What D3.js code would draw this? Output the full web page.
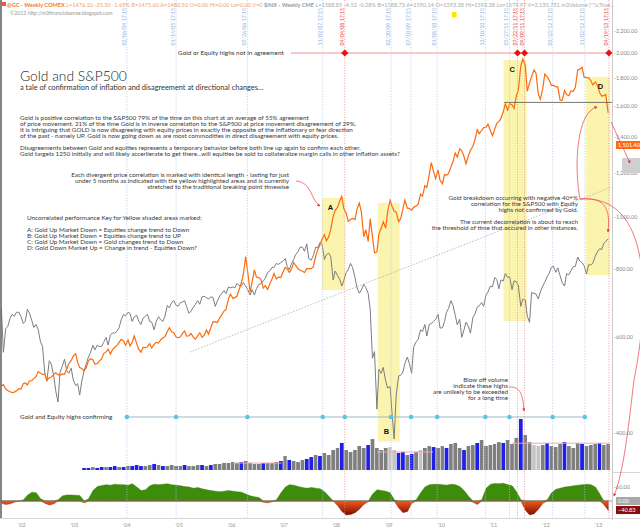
<!DOCTYPE html>
<html>
<head>
<meta charset="utf-8">
<script src="https://cdnjs.cloudflare.com/ajax/libs/d3/7.8.5/d3.min.js"></script>
<style>
  body { margin: 0; background: #fff; }
  svg { display: block; font-family: Lato, "Open Sans", sans-serif; }
</style>
</head>
<body>
<svg id="chart" width="640" height="530"></svg>
<script>
// gold weekly closes, sampled twice a month from Sep 2001 (mid, end)
const gold = [
  290,293, 283,279, 276,274, 275,278,
  283,282, 296,297, 292,302, 303,308, 313,326, 322,318, 320,304, 310,312, 318,323, 318,317, 320,319, 333,347,
  356,368, 375,350, 337,334, 328,336, 355,361, 358,346, 347,354, 360,375, 380,388, 374,386, 394,398, 408,417,
  412,399, 415,397, 408,427, 405,388, 379,393, 392,395, 404,391, 402,408, 406,415, 422,425, 441,453, 440,438,
  424,422, 425,435, 443,427, 428,435, 424,417, 428,437, 423,429, 446,433, 454,473, 472,470, 485,495, 508,513,
  550,568, 552,556, 560,582, 610,644, 715,653, 575,613, 660,632, 630,623, 590,599, 585,604, 625,646, 625,632,
  630,650, 670,664, 650,661, 690,677, 665,659, 655,650, 665,665, 665,672, 715,743, 765,789, 810,783, 800,834,
  895,923, 940,971, 995,933, 910,871, 880,885, 880,930, 960,918, 800,833, 780,884, 800,730, 735,814, 840,869,
  840,919, 975,942, 920,916, 870,883, 930,975, 935,934, 925,939, 945,955, 1005,995, 1050,1040, 1110,1175, 1125,1087,
  1135,1078, 1060,1109, 1105,1115, 1150,1180, 1230,1207, 1255,1244, 1210,1169, 1215,1246, 1270,1307, 1370,1346, 1365,1383, 1385,1405,
  1365,1333, 1375,1411, 1420,1439, 1485,1535, 1495,1536, 1530,1505, 1590,1628, 1800,1850, 1800,1620, 1680,1722, 1770,1746, 1600,1566,
  1640,1740, 1720,1697, 1660,1662, 1650,1651, 1560,1559, 1625,1598, 1590,1622, 1620,1648, 1770,1776, 1790,1720, 1715,1714, 1695,1664,
  1685,1664, 1610,1588, 1590,1598, 1476
];

// S&P500, same sampling
const spx = [
  1170,965, 1070,1080, 1120,1140, 1130,1150,
  1150,1130, 1095,1106, 1165,1147, 1110,1076, 1090,1067, 1010,990, 880,850, 930,916, 870,815, 776,885, 910,936, 890,880,
  900,855, 834,841, 800,848, 890,916, 945,963, 995,975, 995,990, 990,1008, 1030,996, 1040,1050, 1050,1058, 1075,1112,
  1140,1131, 1150,1144, 1105,1126, 1135,1107, 1090,1120, 1130,1140, 1105,1101, 1065,1104, 1128,1114, 1105,1130, 1185,1173, 1200,1212,
  1185,1181, 1200,1203, 1210,1180, 1145,1156, 1175,1191, 1210,1191, 1230,1234, 1225,1220, 1230,1228, 1180,1207, 1235,1249, 1265,1248,
  1285,1280, 1285,1280, 1305,1294, 1290,1310, 1290,1270, 1240,1270, 1240,1276, 1300,1303, 1320,1335, 1370,1377, 1400,1400, 1425,1418,
  1430,1438, 1455,1406, 1385,1420, 1450,1482, 1500,1530, 1530,1503, 1552,1455, 1445,1473, 1530,1526, 1562,1549, 1450,1481, 1490,1468,
  1325,1378, 1350,1330, 1290,1322, 1370,1385, 1425,1400, 1340,1280, 1250,1267, 1300,1282, 1250,1166, 940,968, 752,896, 880,903,
  850,825, 830,735, 660,797, 870,872, 885,919, 945,919, 880,987, 1010,1020, 1065,1057, 1090,1036, 1090,1095, 1105,1115,
  1140,1073, 1075,1104, 1150,1169, 1210,1186, 1135,1089, 1115,1030, 1065,1101, 1080,1049, 1125,1141, 1175,1183, 1200,1180, 1240,1257,
  1290,1286, 1340,1327, 1275,1325, 1320,1363, 1340,1345, 1270,1320, 1315,1292, 1180,1218, 1215,1131, 1100,1253, 1250,1246, 1220,1257,
  1290,1312, 1345,1365, 1400,1408, 1370,1397, 1350,1310, 1290,1362, 1355,1379, 1405,1406, 1465,1440, 1430,1412, 1360,1416, 1415,1426,
  1470,1498, 1520,1514, 1555,1569, 1588
];

// monthly volume from Apr 2003 and the bar colour (b blue, g grey, l light)
const volume = [
  22,22,32,22,32,32,32,43,32,
  32,43,43,54,43,43,54,65,54,43,43,54,
  43,43,54,43,43,54,54,43,54,65,65,76,
  76,86,76,86,97,76,65,65,76,76,76,86,
  97,151,108,97,86,108,119,140,162,151,184,162,
  216,238,292,216,194,216,259,238,270,335,238,216,
  238,248,216,184,194,162,173,194,216,238,259,248,
  238,259,238,281,292,238,216,259,270,292,324,259,
  270,281,302,292,324,281,346,551,378,302,270,259,
  270,292,259,248,281,302,259,238,292,281,259,270,
  281,292,270,281
];
const volumeColor = "bbgbbgbbg" + "bgbbbggbgbgg" + "ggbgggbgbggg" + "gggbggggbggg" +
  "bgbgggbbgbgg" + "ggbgggggbggg" + "gllbbgbglggb" + "ggbgggbggbgg" +
  "gggbgggbggll" + "gbgggbgggbgg" + "gbgg";
const volumeAvg = [
  ["2006-03-01", "2007-01-20", 75],
  ["2008-11-15", "2009-12-10", 195],
  ["2011-06-15", "2013-04-20", 290]
];

// monthly correlation oscillator from Sep 2001
const osc = [
  -10,-15,-12,-5,
  0,5,25,38,35,10,-10,-17,-12,5,22,26,
  26,25,24,-8,10,45,62,66,70,68,72,70,
  70,68,74,60,45,48,65,72,70,72,74,70,
  68,65,62,60,55,58,52,48,45,42,40,42,
  45,42,40,38,30,22,18,15,-5,-8,-3,5,
  35,60,70,68,62,58,55,58,55,52,40,20,
  0,-20,-45,-60,-58,-50,-35,-15,-2,30,48,45,
  42,35,5,-30,-50,-45,-10,5,35,60,70,72,
  72,70,68,72,70,62,45,20,-5,-15,5,55,
  72,75,74,76,70,65,40,5,-40,-60,-55,-35,
  -10,5,35,50,55,60,62,65,68,70,72,70,
  60,30,-15,-40.83
];

// marked weeks: b = highs confirming, r = highs not in agreement
const events = [
  ["2004-02-06", "b"], ["2005-01-14", "b"], ["2006-05-26", "b"], ["2007-11-02", "b"],
  ["2008-04-04", "r"], ["2009-02-20", "b"], ["2009-07-10", "b"], ["2010-01-08", "b"],
  ["2010-12-10", "b"], ["2011-05-27", "b"], ["2011-07-22", "r"], ["2011-09-09", "r"],
  ["2012-03-23", "b"], ["2012-11-02", "b"], ["2013-04-19", "r"]
];

// yellow decorrelation zones: letter, start, end, top, bottom (price axis)
const zones = [
  ["A", "2007-10-27", "2008-04-05", 1082, 732],
  ["B", "2008-11-20", "2009-04-22", 1059, 385],
  ["C", "2011-04-15", "2011-09-24", 1941, 642],
  ["D", "2012-11-10", "2013-04-28", 1807, 780]
];

const priceTicks = [2200, 2000, 1800, 1600, 1400, 1200, 1000, 800, 600];
const years = d3.range(2002, 2014);
const goldSupport = 1545;
const trend = [["2005-04-20", 966], ["2013-11-20", 2090]];

const svg = d3.select("#chart");
const W = 640, H = 530, plotRight = 612;
const parse = d3.timeParse("%Y-%m-%d");

const x = d3.scaleTime()
  .domain([new Date(2002, 0, 1), new Date(2013, 0, 1)])
  .range([17, 17 + 11 * 52.4]);
const yGold = d3.scalePow().exponent(0.4).domain([280, 1850]).range([390, 59]);
const ySpx = d3.scaleLog().domain([776, 1565]).range([402, 242]);
const yPrice = d3.scaleLog().domain([600, 2000]).range([337, 53]);
const yVol = d3.scaleLinear().domain([0, 400]).range([470, 433]);
const yOsc = d3.scaleLinear().domain([0, 60]).range([501, 487]);

const halfMonth = (i) => new Date(2001, 8 + Math.floor(i / 2), i % 2 ? 28 : 14);

svg.append("rect").attr("width", W).attr("height", H).attr("fill", "#fff");

const defs = svg.append("defs");
defs.append("clipPath").attr("id", "plot")
  .append("rect").attr("x", 0).attr("y", 0).attr("width", plotRight).attr("height", 518);
defs.append("marker")
  .attr("id", "arr").attr("viewBox", "0 0 6 6")
  .attr("refX", 5).attr("refY", 3)
  .attr("markerWidth", 4).attr("markerHeight", 4)
  .attr("orient", "auto")
  .append("path").attr("d", "M0,0L6,3L0,6Z").attr("fill", "#e8303a");
const grad = defs.append("linearGradient").attr("id", "redfill")
  .attr("gradientUnits", "userSpaceOnUse")
  .attr("x1", 0).attr("y1", yOsc(0)).attr("x2", 0).attr("y2", yOsc(-60));
grad.append("stop").attr("offset", 0).attr("stop-color", "#f05a1e");
grad.append("stop").attr("offset", 1).attr("stop-color", "#7a0c00");

const plot = svg.append("g").attr("clip-path", "url(#plot)");

// yellow zones
plot.selectAll(".zone")
  .data(zones)
  .join("rect")
  .attr("x", (d) => x(parse(d[1])))
  .attr("width", (d) => x(parse(d[2])) - x(parse(d[1])))
  .attr("y", (d) => yPrice(d[3]))
  .attr("height", (d) => yPrice(d[4]) - yPrice(d[3]))
  .attr("fill", "#fbf3a6")
  .attr("opacity", 0.9);

// event verticals
svg.selectAll(".ev")
  .data(events)
  .join("line")
  .attr("x1", (d) => x(parse(d[0])))
  .attr("x2", (d) => x(parse(d[0])))
  .attr("y1", 0)
  .attr("y2", 518)
  .attr("stroke", (d) => d[1] === "r" ? "#f08a8a" : "#a9c6ee")
  .attr("stroke-width", 0.8)
  .attr("stroke-dasharray", "1,1.6");

svg.selectAll(".evlabel")
  .data(events)
  .join("text")
  .attr("transform", (d) => `translate(${x(parse(d[0])) - 1},8) rotate(-90)`)
  .attr("text-anchor", "end")
  .attr("font-size", 5.2)
  .attr("fill", (d) => d[1] === "r" ? "#e8464a" : "#8fb2e6")
  .text((d) => d3.timeFormat("%m/%d/%y")(parse(d[0])) + " 17:15");

// highs not in agreement
svg.append("line")
  .attr("x1", 291).attr("x2", plotRight)
  .attr("y1", yPrice(2000)).attr("y2", yPrice(2000))
  .attr("stroke", "#f6b4b4").attr("stroke-width", 1.6);
svg.append("text")
  .attr("x", 178).attr("y", yPrice(2000) + 2)
  .attr("font-size", 6.4).attr("fill", "#333")
  .text("Gold or Equity highs not in agreement");

// trend and support lines
plot.append("line")
  .attr("x1", x(parse(trend[0][0]))).attr("y1", ySpx(trend[0][1]))
  .attr("x2", x(parse(trend[1][0]))).attr("y2", ySpx(trend[1][1]))
  .attr("stroke", "#aaa").attr("stroke-width", 0.8).attr("stroke-dasharray", "1.5,1.5");
svg.append("line")
  .attr("x1", x(parse("2011-04-20"))).attr("x2", plotRight)
  .attr("y1", yGold(goldSupport)).attr("y2", yGold(goldSupport))
  .attr("stroke", "#555").attr("stroke-width", 0.8);

// price lines
plot.append("path")
  .datum(spx)
  .attr("fill", "none")
  .attr("stroke", "#7d7d7d")
  .attr("stroke-width", 1)
  .attr("d", d3.line().x((d, i) => x(halfMonth(i))).y((d) => ySpx(d)));
plot.append("path")
  .datum(gold)
  .attr("fill", "none")
  .attr("stroke", "#ff6a0a")
  .attr("stroke-width", 1.2)
  .attr("d", d3.line().x((d, i) => x(halfMonth(i))).y((d) => yGold(d)));

// zone letters
svg.selectAll(".zl")
  .data(zones)
  .join("text")
  .attr("x", (d) => d[0] === "D" ? x(parse(d[2])) - 7 : x(parse(d[1])) + 6)
  .attr("y", (d) => d[0] === "B" ? yPrice(d[4]) - 8 : yPrice(d[3]) + 12)
  .attr("text-anchor", (d) => d[0] === "D" ? "end" : "start")
  .attr("font-family", "Liberation Sans, Arial, sans-serif")
  .attr("font-weight", "bold")
  .attr("font-size", 7.5)
  .attr("fill", "#111")
  .text((d) => d[0]);

// volume
const volMonth = (i) => new Date(2003, 3 + i, 1);
const volFill = { b: "#1f1fe8", g: "#7f7f7f", l: "#c4c4c4" };
plot.selectAll(".vol")
  .data(volume)
  .join("rect")
  .attr("x", (d, i) => x(volMonth(i)))
  .attr("width", (d, i) => Math.max(0.8, x(volMonth(i + 1)) - x(volMonth(i)) - 0.7))
  .attr("y", (d) => yVol(d))
  .attr("height", (d) => yVol(0) - yVol(d))
  .attr("fill", (d, i) => volFill[volumeColor[i]]);
plot.selectAll(".vavg")
  .data(volumeAvg)
  .join("line")
  .attr("x1", (d) => x(parse(d[0]))).attr("x2", (d) => x(parse(d[1])))
  .attr("y1", (d) => yVol(d[2])).attr("y2", (d) => yVol(d[2]))
  .attr("stroke", "#f4a6a6").attr("stroke-width", 1);

// oscillator
const oscMonth = (i) => new Date(2001, 8 + i, 15);
plot.append("path")
  .datum(osc)
  .attr("fill", "#3e8c0c")
  .attr("stroke", "#2f7a06").attr("stroke-width", 0.4)
  .attr("d", d3.area().x((d, i) => x(oscMonth(i))).y0(yOsc(0)).y1((d) => yOsc(Math.max(d, 0))));
plot.append("path")
  .datum(osc)
  .attr("fill", "url(#redfill)")
  .attr("stroke", "#8a1200").attr("stroke-width", 0.4)
  .attr("d", d3.area().x((d, i) => x(oscMonth(i))).y0(yOsc(0)).y1((d) => yOsc(Math.min(d, 0))));
plot.append("line")
  .attr("x1", 0).attr("x2", plotRight)
  .attr("y1", yOsc(0)).attr("y2", yOsc(0))
  .attr("stroke", "#888").attr("stroke-width", 0.8);

// highs confirming
const confirm = events.filter((d, i) => d[1] === "b" || i === 4);
svg.append("line")
  .attr("x1", x(parse(confirm[0][0]))).attr("x2", x(parse(confirm[confirm.length - 1][0])))
  .attr("y1", 417).attr("y2", 417)
  .attr("stroke", "#9fb8c6").attr("stroke-width", 1.2);
svg.selectAll(".cdot")
  .data(confirm)
  .join("circle")
  .attr("cx", (d) => x(parse(d[0])))
  .attr("cy", 417)
  .attr("r", 2.3)
  .attr("fill", "#5cc3e0");
svg.append("text")
  .attr("x", 20).attr("y", 419)
  .attr("font-size", 6.4).attr("fill", "#333")
  .text("Gold and Equity highs confirming");

// diamonds
svg.selectAll(".dia")
  .data(events.filter((d) => d[1] === "r"))
  .join("path")
  .attr("transform", (d) => `translate(${x(parse(d[0]))},${yPrice(2000)})`)
  .attr("d", "M0,-3.6L3.6,0L0,3.6L-3.6,0Z")
  .attr("fill", "#ee1111");

// right axis
svg.append("line")
  .attr("x1", plotRight + 0.5).attr("x2", plotRight + 0.5)
  .attr("y1", 0).attr("y2", 520)
  .attr("stroke", "#bbb").attr("stroke-width", 0.8);
const rt = svg.append("g").attr("font-size", 5.4).attr("fill", "#888");
rt.selectAll("text")
  .data(priceTicks)
  .join("text")
  .attr("x", 614).attr("y", (d) => yPrice(d) + 2)
  .text((d) => "-" + d3.format(",.2f")(d));
rt.append("text").attr("x", 614).attr("y", yVol(400) + 2).text("-400.00");
rt.append("text").attr("x", 614).attr("y", yOsc(60) + 2).text("-60.00");

// value tags
function tag(yc, txt, bg, w) {
  svg.append("rect").attr("x", 616).attr("y", yc - 4).attr("width", w).attr("height", 8).attr("fill", bg);
  svg.append("text").attr("x", 618).attr("y", yc + 2).attr("font-size", 5.6).attr("fill", "#fff").text(txt);
}
svg.append("rect").attr("x", 622).attr("y", 158).attr("width", 18).attr("height", 15).attr("fill", "#cfcfcf");
tag(145, "1,501.40", "#ff6a0a", 24);
tag(yOsc(0), "0.00", "#a8a8a8", 24);
tag(yOsc(osc[osc.length - 1]) - 0.5, d3.format(".2f")(osc[osc.length - 1]), "#8a0c0c", 24);

// x axis
svg.append("line").attr("x1", 0).attr("x2", W).attr("y1", 518.5).attr("y2", 518.5)
  .attr("stroke", "#ccc").attr("stroke-width", 0.8);
svg.append("line").attr("x1", plotRight).attr("x2", W).attr("y1", 472.5).attr("y2", 472.5)
  .attr("stroke", "#ccc").attr("stroke-width", 0.8);
svg.selectAll(".yr")
  .data(years)
  .join("text")
  .attr("x", (d) => x(new Date(d, 0, 1)) + 5)
  .attr("y", 527)
  .attr("text-anchor", "middle")
  .attr("font-size", 5.6)
  .attr("fill", "#999")
  .text((d) => "'" + String(d).slice(2));

// left frame
svg.append("line").attr("x1", 1).attr("x2", 1).attr("y1", 0).attr("y2", 518)
  .attr("stroke", "#666").attr("stroke-width", 1.6);

// header
const hdr = svg.append("text").attr("x", 7).attr("y", 6.5).attr("font-size", 5.6);
hdr.append("tspan").attr("fill", "#f07a2a").attr("font-weight", "bold").text("@GC - Weekly  COMEX");
hdr.append("tspan").attr("fill", "#f0a26e")
  .text("  L=1476.10  -25.30  -1.69%  B=1475.60  A=1480.50  O=0.00  Hi=0.00  Lo=0.00  V=0");
hdr.append("tspan").attr("fill", "#999").attr("font-weight", "bold").text("  $INX - Weekly  CME");
hdr.append("tspan").attr("fill", "#aaa")
  .text("  L=1588.85  -4.52  -0.28%  B=1588.73  A=1590.14  O=1593.38  Hi=1593.38  Lo=1579.97  V=2,135,731  m3Volume (\"\",V,True...");
svg.append("rect").attr("x", 2).attr("y", 2).attr("width", 4).attr("height", 4).attr("fill", "#e85a3a");
svg.append("rect").attr("x", 452).attr("y", 12).attr("width", 4.5).attr("height", 5.5).attr("fill", "#ffe600");
svg.append("text").attr("x", 10).attr("y", 15).attr("font-size", 5.2).attr("fill", "#999")
  .text("\u00a92013 http://m3financialsense.blogspot.com");

// title and notes
svg.append("text").attr("x", 20).attr("y", 80.5)
  .attr("font-size", 13.8).attr("font-weight", 300).attr("fill", "#222")
  .text("Gold and S&P500");
svg.append("text").attr("x", 20).attr("y", 89.5)
  .attr("font-size", 7.4).attr("fill", "#333")
  .text("a tale of confirmation of inflation and disagreement at directional changes...");

function block(lines, xx, y0, step, anchor) {
  const t = svg.append("g").attr("font-size", 6.3).attr("fill", "#3a3a3a").attr("text-anchor", anchor || "start");
  lines.forEach((s, i) => {
    if (s) t.append("text").attr("x", xx).attr("y", y0 + i * step).text(s);
  });
}
block([
  "Gold is positive correlation to the S&P500 79% of the time on this chart at an average of 55% agreement",
  "of price movement. 21% of the time Gold is in inverse correlation to the S&P500 at price movement disagreement of 29%.",
  "It is intriguing that GOLD is now disagreeing with equity prices in exactly the opposite of the inflationary or fear direction",
  "of the past - namely UP. Gold is now going down as are most commodities in direct disagreement with equity prices.",
  "",
  "Disagreements between Gold and equities represents a temporary behavior before both line up again to confirm each other.",
  "Gold targets 1250 initially and will likely accerllerate to get there...will equities be sold to collateralize margin calls in other inflation assets?"
], 20, 120, 6);
block([
  "Each divergent price correlation is marked with identical length - lasting for just",
  "under 5 months as indicated with the yellow highlighted areas and is currently",
  "stretched to the traditional breaking point timewise"
], 289, 177, 6, "end");
block([
  "Uncorrelated performance Key for Yellow shaded areas marked:",
  "",
  "A: Gold Up Market Down = Equities change trend to Down",
  "B: Gold Up Market Down = Equities change trend to UP",
  "C: Gold Up Market Down = Gold changes trend to Down",
  "D: Gold Down Market Up = Change in trend - Equities Down?"
], 27, 220, 6);
block([
  "Gold breakdown occurring with negative 40+%",
  "correlation for the S&P500 with Equity",
  "highs not confirmed by Gold.",
  "",
  "The current decorrelation is about to reach",
  "the threshold of time that occured in other instances."
], 578, 200, 6, "end");
block([
  "Blow off volume",
  "indicate these highs",
  "are unlikely to be exceeded",
  "for a long time"
], 508, 382, 6, "end");

// red annotation arrows
const arrows = [
  "M296,181 C312,182 311,201 320,206",
  "M580,199 C574,168 576,112 597,107",
  "M580,199 C603,197 611,206 608,232",
  "M580,199 C652,194 650,300 634,380 C628,430 624,470 614,496",
  "M611,122 L630,163",
  "M509,387 C521,386 523,396 524,411"
];
svg.selectAll(".arrow")
  .data(arrows)
  .join("path")
  .attr("d", (d) => d)
  .attr("fill", "none")
  .attr("stroke", "#ee5560")
  .attr("stroke-width", 0.8)
  .attr("marker-end", "url(#arr)");
</script>
</body>
</html>
